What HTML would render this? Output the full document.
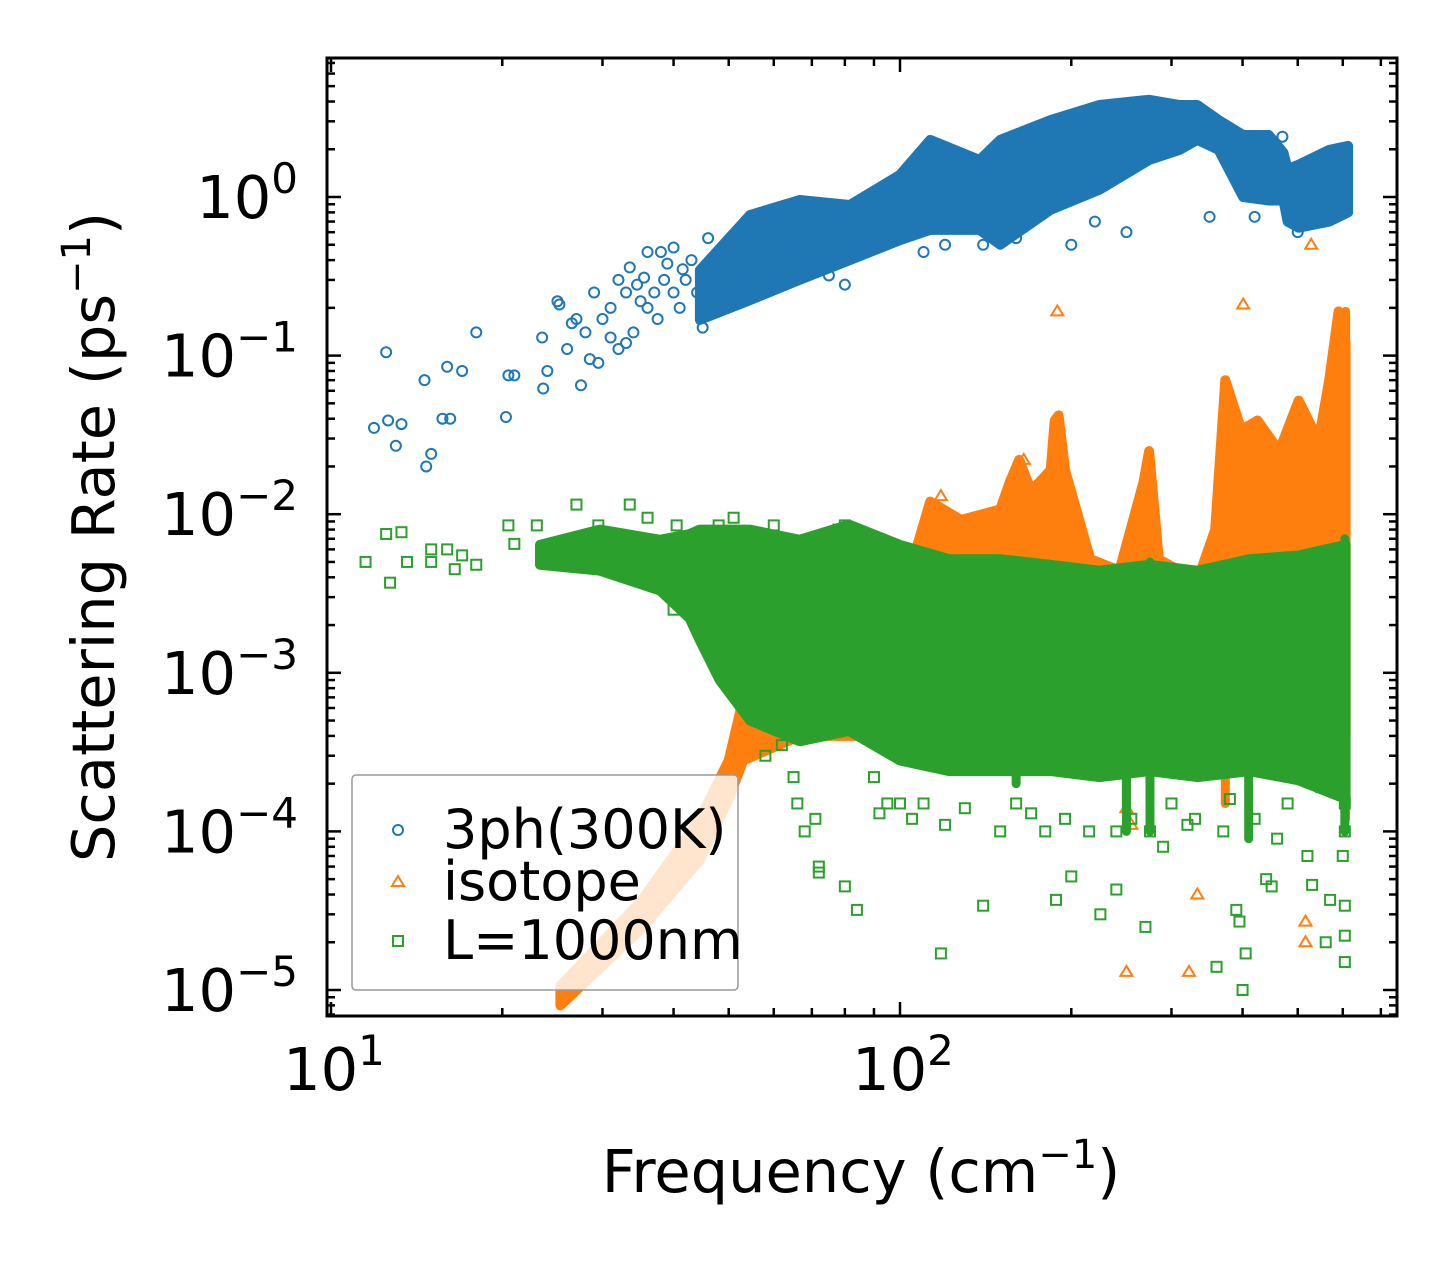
<!DOCTYPE html>
<html><head><meta charset="utf-8"><style>
html,body{margin:0;padding:0;background:#fff}
svg{display:block;font-family:"DejaVu Sans","Liberation Sans",sans-serif}
</style></head><body>
<svg id="chart" width="1455" height="1265" viewBox="0 0 1455 1265" xmlns="http://www.w3.org/2000/svg">
<defs><clipPath id="plotclip"><rect x="327" y="58" width="1070" height="958"/></clipPath></defs>
<rect x="0" y="0" width="1455" height="1265" fill="#fff"/>
<g id="plot" clip-path="url(#plotclip)"></g>
<g id="axes"></g>
<g id="legend">
  <rect x="352" y="775" width="386" height="215" rx="4" fill="#fff" fill-opacity="0.8" stroke="#999" stroke-width="1.5"/>
  <circle cx="398" cy="830" r="5" fill="none" stroke="#1f77b4" stroke-width="2"/>
  <text x="443" y="848" font-size="54">3ph(300K)</text>
  <path d="M398,876 L404,886 L392,886 Z" fill="none" stroke="#ff7f0e" stroke-width="2"/>
  <text x="443" y="900" font-size="54">isotope</text>
  <rect x="393" y="936" width="10" height="10" fill="none" stroke="#2ca02c" stroke-width="2"/>
  <text x="443" y="959" font-size="54">L=1000nm</text>
</g>
<text x="861" y="1192" font-size="59" text-anchor="middle">Frequency (cm<tspan dy="-24" font-size="40">−1</tspan><tspan dy="24">)</tspan></text>
<text transform="translate(114,537) rotate(-90)" font-size="59" text-anchor="middle">Scattering Rate (ps<tspan dy="-24" font-size="40">−1</tspan><tspan dy="24">)</tspan></text>
</svg>
<script>
// ---- data ----
const blueSparseFreq=[11.9,12.5,12.6,13,13.3,14.6,14.7,15,15.7,16,16.2,17,18,20.3,20.5,21,23.5,23.6,24,25,25.2,26,26.5,27,27.5,28,28.5,29,29.5,30,31,31,32,32,33,33,33.5,34,34.5,35,35.5,36,36,37,37.5,38,38.5,39,40,40,41,41.5,42,43,44,45,46,48,50,52,55,58,62,65,70,75,80,85,110,120,140,160,200,220,250,350,470,420,500,600];
const blueSparseRate=[0.035,0.105,0.039,0.027,0.037,0.07,0.02,0.024,0.04,0.085,0.04,0.08,0.14,0.041,0.075,0.075,0.13,0.062,0.08,0.22,0.21,0.11,0.16,0.17,0.065,0.14,0.095,0.25,0.09,0.17,0.2,0.13,0.11,0.3,0.12,0.25,0.36,0.14,0.28,0.22,0.31,0.2,0.45,0.25,0.17,0.45,0.3,0.38,0.25,0.48,0.2,0.35,0.3,0.4,0.25,0.15,0.55,0.45,0.24,0.3,0.25,0.25,0.3,0.45,0.35,0.32,0.28,0.45,0.45,0.5,0.5,0.55,0.5,0.7,0.6,0.75,2.4,0.75,0.6,2.0];
const blueBandFreq=[44.5,54.5,66.6,81.6,100,113,138,150,184,224,274,310,333,363,401,445,472,480,502,568,613];
const blueBandHigh=[0.346,0.77,0.957,0.89,1.38,2.29,1.71,2.29,3.06,3.8,4.1,3.8,3.8,3.06,2.46,2.46,1.9,1.5,1.6,1.98,2.1];
const blueBandLow=[0.168,0.224,0.30,0.40,0.535,0.62,0.62,0.50,0.83,1.11,1.71,1.98,2.29,1.98,1.0,0.95,0.95,0.7,0.64,0.7,0.8];

const isoBandFreq=[25.3,35,44.5,50,53,66.6,88,104,108,113,128,150,156,162,170,184,187,190,195,216,243,268,274,285,310,333,358,373,398,425,464,502,544,568,590,607];
const isoBandHigh=[1.06e-5,3.6e-5,1.2e-4,2.8e-4,6.8e-4,1.6e-3,3.8e-3,4.4e-3,6.9e-3,1.2e-2,9.2e-3,1.07e-2,1.6e-2,2.2e-2,1.4e-2,1.9e-2,3.9e-2,4.2e-2,1.9e-2,5.2e-3,4.4e-3,1.6e-2,2.5e-2,5.2e-3,4.4e-3,3.8e-3,8.0e-3,7.0e-2,3.4e-2,3.9e-2,2.5e-2,5.2e-2,2.9e-2,7.0e-2,0.19,0.12];
const isoBandLow=[8e-6,2.4e-5,6.6e-5,1.6e-4,2.8e-4,4e-4,4e-4,4e-4,4e-4,4e-4,4e-4,4e-4,4e-4,4e-4,4e-4,4e-4,4e-4,4e-4,4e-4,4e-4,4e-4,4e-4,4e-4,4e-4,4e-4,4e-4,4e-4,4e-4,4e-4,4e-4,4e-4,4e-4,4e-4,4e-4,4e-4,4e-4];
const isoSparseFreq=[118,165,189,401,528,250,322,333,516,516,250,255];
const isoSparseRate=[0.013,0.022,0.19,0.21,0.5,1.3e-5,1.3e-5,4e-5,2.7e-5,2e-5,1.4e-4,1.1e-4];
const isoSpikeFreq=[275,373,607,250];
const isoSpikeLow=[2e-4,1.5e-4,1.2e-4,1.4e-4];
const isoSpikeHigh=[2.2e-2,7e-2,0.19,3e-3];

const bndBandFreq=[23.3,29.7,37.9,42.7,44.5,48.2,54.5,66.6,81.4,100,122,150,184,224,274,333,411,502,607];
const bndBandHigh=[6.4e-3,8.0e-3,6.9e-3,7.5e-3,8.0e-3,8.0e-3,8.0e-3,6.9e-3,8.6e-3,6.4e-3,5.2e-3,5.2e-3,4.8e-3,4.4e-3,4.8e-3,4.4e-3,5.2e-3,5.5e-3,6.4e-3];
const bndBandLow=[4.8e-3,4.4e-3,3.3e-3,2.2e-3,1.6e-3,9e-4,5.0e-4,3.7e-4,4.3e-4,2.8e-4,2.4e-4,2.4e-4,2.4e-4,2.2e-4,2.4e-4,2.2e-4,2.4e-4,2.1e-4,1.6e-4];
const bndSparseFreq=[11.5,12.5,12.7,13.3,13.6,15,15,16,16.5,17,18,20.5,21,23,24,25,27,29.5,33.5,36,40.5,48,51,54,60,78,75,80,110,40,55,52,56,58,62,65,66,68,71,72,72,80,84,90,92,95,100,105,110,118,120,130,140,150,160,170,180,188,195,200,215,225,240,240,255,270,275,290,300,320,330,360,370,380,390,395,400,405,420,440,450,460,480,520,530,550,560,570,600,605,605,605,605,605];
const bndSparseRate=[0.005,0.0075,0.0037,0.0077,0.005,0.006,0.005,0.006,0.0045,0.0055,0.0048,0.0085,0.0065,0.0085,0.005,0.005,0.0115,0.0085,0.0115,0.0095,0.0085,0.0085,0.0095,0.0075,0.0085,0.008,0.0065,0.0085,0.0055,0.0025,0.0015,0.0009,0.0005,0.0003,0.00035,0.00022,0.00015,0.0001,0.00012,5.5e-5,6e-5,4.5e-5,3.2e-5,2.2e-4,1.3e-4,1.5e-4,1.5e-4,1.2e-4,1.5e-4,1.7e-5,1.1e-4,1.4e-4,3.4e-5,1.0e-4,1.5e-4,1.3e-4,1.0e-4,3.7e-5,1.2e-4,5.2e-5,1.0e-4,3.0e-5,4.3e-5,1.0e-4,1.2e-4,2.5e-5,1.0e-4,8e-5,1.5e-4,1.1e-4,1.2e-4,1.4e-5,1.0e-4,1.6e-4,3.2e-5,2.7e-5,1.0e-5,1.7e-5,1.2e-4,5e-5,4.5e-5,9e-5,1.5e-4,7e-5,4.6e-5,1.9e-4,2.0e-5,3.7e-5,7e-5,2.2e-5,1.5e-5,3.4e-5,1e-4,1.5e-4];
const bndSpikeFreq=[275,410,605,160,250];
const bndSpikeLow=[1e-4,9e-5,1e-4,2e-4,1e-4];
const bndSpikeHigh=[5e-3,4e-3,7e-3,4e-3,4e-3];

const xMajor=[10,100];
const xMajorLabels=["1","2"];
const yMajor=[1,0.1,0.01,0.001,0.0001,0.00001];
const yMajorLabels=["0","−1","−2","−3","−4","−5"];

// ---- scales ----
const L=327,R=1397,T=58,B=1016;
function xs(f){return 331+569*(Math.log10(f)-1);}
function ys(v){return 197-158.6*Math.log10(v);}
const NS="http://www.w3.org/2000/svg";
const plot=document.getElementById('plot');
const axes=document.getElementById('axes');
function mk(tag,attrs,parent){const e=document.createElementNS(NS,tag);for(const k in attrs)e.setAttribute(k,attrs[k]);parent.appendChild(e);return e;}

function band(fr,lo,hi,color,name){
  let pts=[];
  for(let i=0;i<fr.length;i++)pts.push(xs(fr[i]).toFixed(1)+','+ys(hi[i]).toFixed(1));
  for(let i=fr.length-1;i>=0;i--)pts.push(xs(fr[i]).toFixed(1)+','+ys(lo[i]).toFixed(1));
  const p=mk('polygon',{points:pts.join(' '),fill:color,stroke:color,'stroke-width':10,'stroke-linejoin':'round'},plot);
  
  
}
function spikes(fr,lo,hi,color,name){
  for(let i=0;i<fr.length;i++){
    const l=mk('line',{x1:xs(fr[i]),x2:xs(fr[i]),y1:ys(lo[i]),y2:ys(hi[i]),stroke:color,'stroke-width':9,'stroke-linecap':'round'},plot);
    
    
  }
}
function circles(fr,r,color){
  for(let i=0;i<fr.length;i++){
    const c=mk('circle',{cx:xs(fr[i]),cy:ys(r[i]),r:5,fill:'none',stroke:color,'stroke-width':2},plot);
    
    
  }
}
function tris(fr,r,color){
  for(let i=0;i<fr.length;i++){
    const x=xs(fr[i]),y=ys(r[i]);
    const t=mk('path',{d:'M'+x+','+(y-6)+' L'+(x+6)+','+(y+4)+' L'+(x-6)+','+(y+4)+' Z',fill:'none',stroke:color,'stroke-width':2},plot);
    
    
  }
}
function squares(fr,r,color){
  for(let i=0;i<fr.length;i++){
    const s=mk('rect',{x:xs(fr[i])-5,y:ys(r[i])-5,width:10,height:10,fill:'none',stroke:color,'stroke-width':2},plot);
    
    
  }
}
band(blueBandFreq,blueBandLow,blueBandHigh,'#1f77b4','3ph-dense-band');
circles(blueSparseFreq,blueSparseRate,'#1f77b4');
band(isoBandFreq,isoBandLow,isoBandHigh,'#ff7f0e','isotope-dense-band');
spikes(isoSpikeFreq,isoSpikeLow,isoSpikeHigh,'#ff7f0e','isotope-spike');
tris(isoSparseFreq,isoSparseRate,'#ff7f0e');
band(bndBandFreq,bndBandLow,bndBandHigh,'#2ca02c','boundary-dense-band');
spikes(bndSpikeFreq,bndSpikeLow,bndSpikeHigh,'#2ca02c','boundary-spike');
squares(bndSparseFreq,bndSparseRate,'#2ca02c');

// ---- axes ----
const frame=mk('rect',{x:L,y:T,width:R-L,height:B-T,fill:'none',stroke:'#000','stroke-width':3},axes);


function tick(x1,y1,x2,y2,name){
  const t=mk('line',{x1:x1,y1:y1,x2:x2,y2:y2,stroke:'#000','stroke-width':2.5},axes);
  
  
}
for(let d=10;d<=100;d*=10){
  for(let m=1;m<10;m++){
    const v=d*m,x=xs(v);
    if(x<L||x>R)continue;
    const len=(m===1)?14:8;
    tick(x,B,x,B-len,'x-tick');
    tick(x,T,x,T+len,'x-tick-top');
  }
}
for(let e=-6;e<=0;e++){
  for(let m=1;m<10;m++){
    const v=m*Math.pow(10,e),y=ys(v);
    if(y<T||y>B)continue;
    const len=(m===1)?14:8;
    tick(L,y,L+len,y,'y-tick');
    tick(R,y,R-len,y,'y-tick-right');
  }
}
function supLabel(x,y,anchor,exp,name){
  const t=mk('text',{x:x,y:y,'font-size':59,'text-anchor':anchor},axes);
  
  
  t.appendChild(document.createTextNode('10'));
  const s=mk('tspan',{dy:-25,'font-size':42},t);
  s.textContent=exp;
}
for(let i=0;i<xMajor.length;i++){
  supLabel(xs(xMajor[i])+3,1090,'middle',xMajorLabels[i],'x-tick-label');
}
for(let i=0;i<yMajor.length;i++){
  supLabel(298,ys(yMajor[i])+21,'end',yMajorLabels[i],'y-tick-label');
}
document.getElementById('chart').appendChild(document.getElementById('legend'));
</script>
</body></html>
